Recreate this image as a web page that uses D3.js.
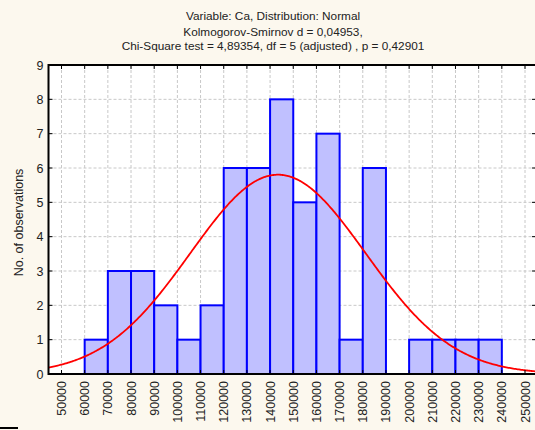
<!DOCTYPE html>
<html>
<head>
<meta charset="utf-8">
<script src="https://cdn.jsdelivr.net/npm/d3@7"></script>
<style>
  body { margin: 0; background: #fcf8ee; }
  svg { display: block; font-family: Arial, "Liberation Sans", sans-serif; }
  .grid line { stroke: #c8c8c8; stroke-dasharray: 3,2; }
</style>
</head>
<body>
<script>
var titleLines = [
    "Variable: Ca, Distribution: Normal",
    "Kolmogorov-Smirnov d = 0,04953,",
    "Chi-Square test = 4,89354, df = 5 (adjusted) , p = 0,42901"
]
var yLabel = "No. of observations"

// histogram bins (lower edge) and counts
var binStarts = [60000, 70000, 80000, 90000, 100000, 110000, 120000, 130000, 140000,
                 150000, 160000, 170000, 180000, 190000, 200000, 210000, 220000, 230000]
var counts = [1, 3, 3, 2, 1, 2, 6, 6, 8, 5, 7, 1, 6, 0, 1, 1, 1, 1]
var binWidth = 10000

var xTicks = [50000, 60000, 70000, 80000, 90000, 100000, 110000, 120000, 130000, 140000, 150000,
              160000, 170000, 180000, 190000, 200000, 210000, 220000, 230000, 240000, 250000]
var yTicks = [0, 1, 2, 3, 4, 5, 6, 7, 8, 9]

// fitted normal
var fitMean = 143400
var fitSd = 37800

var width = 535
var height = 430
var plotLeft = 48.5, plotTop = 65, plotBottom = 374, plotRight = 536

var x = d3.scaleLinear().domain([50000, 250000]).range([61.5, 525])
var y = d3.scaleLinear().domain([0, 9]).range([plotBottom, plotTop])

var svg = d3.select("body").append("svg")
    .attr("width", width)
    .attr("height", height)

svg.append("rect")
    .attr("width", width).attr("height", height)
    .attr("fill", "#fcf8ee")

svg.append("rect")
    .attr("x", plotLeft).attr("y", plotTop)
    .attr("width", plotRight - plotLeft).attr("height", plotBottom - plotTop)
    .attr("fill", "white")

// grid
var grid = svg.append("g").attr("class", "grid")
grid.selectAll(".vg")
    .data(xTicks)
    .enter().append("line")
    .attr("x1", d => x(d)).attr("x2", d => x(d))
    .attr("y1", plotTop).attr("y2", plotBottom)
grid.selectAll(".hg")
    .data(yTicks.slice(1, -1))
    .enter().append("line")
    .attr("x1", plotLeft).attr("x2", plotRight)
    .attr("y1", d => y(d)).attr("y2", d => y(d))

// bars
svg.selectAll(".bar")
    .data(binStarts.map((b, i) => ({ x0: b, n: counts[i] })).filter(d => d.n > 0))
    .enter().append("rect")
    .attr("class", "bar")
    .attr("x", d => x(d.x0))
    .attr("y", d => y(d.n))
    .attr("width", d => x(d.x0 + binWidth) - x(d.x0))
    .attr("height", d => y(0) - y(d.n))
    .attr("fill", "#c0c0ff")
    .attr("stroke", "#0000ff")
    .attr("stroke-width", 2)

// normal curve scaled to counts
var total = d3.sum(counts)
var xMin = x.invert(plotLeft), xMax = x.invert(plotRight)
var curvePts = d3.range(xMin, xMax, 500).map(function (v) {
    var z = (v - fitMean) / fitSd
    return [v, total * binWidth * Math.exp(-0.5 * z * z) / (fitSd * Math.sqrt(2 * Math.PI))]
})
svg.append("path")
    .datum(curvePts)
    .attr("fill", "none")
    .attr("stroke", "#ff0000")
    .attr("stroke-width", 1.8)
    .attr("d", d3.line().x(d => x(d[0])).y(d => y(d[1])))

// frame
svg.append("rect")
    .attr("x", plotLeft).attr("y", plotTop)
    .attr("width", plotRight - plotLeft).attr("height", plotBottom - plotTop)
    .attr("fill", "none")
    .attr("stroke", "black")
    .attr("stroke-width", 2)

// inner ticks
var ticks = svg.append("g").attr("stroke", "black").attr("stroke-width", 1)
xTicks.forEach(function (t) {
    ticks.append("line").attr("x1", x(t)).attr("x2", x(t)).attr("y1", plotBottom).attr("y2", plotBottom - 4)
    ticks.append("line").attr("x1", x(t)).attr("x2", x(t)).attr("y1", plotTop).attr("y2", plotTop + 4)
})
yTicks.forEach(function (t) {
    ticks.append("line").attr("x1", plotLeft).attr("x2", plotLeft + 4).attr("y1", y(t)).attr("y2", y(t))
    ticks.append("line").attr("x1", plotRight - 4).attr("x2", plotRight).attr("y1", y(t)).attr("y2", y(t))
})

// y tick labels
svg.selectAll(".ylab")
    .data(yTicks)
    .enter().append("text")
    .attr("x", plotLeft - 5)
    .attr("y", d => y(d) + 4.5)
    .attr("text-anchor", "end")
    .attr("font-size", 12.5)
    .attr("fill", "#222")
    .text(d => d)

// x tick labels, rotated
svg.selectAll(".xlab")
    .data(xTicks)
    .enter().append("text")
    .attr("transform", d => "translate(" + (x(d) + 4.5) + "," + (plotBottom + 7) + ") rotate(-90)")
    .attr("text-anchor", "end")
    .attr("font-size", 12.5)
    .attr("fill", "#222")
    .text(d => d)

// y axis title
svg.append("text")
    .attr("transform", "translate(23," + ((plotTop + plotBottom) / 2 + 3) + ") rotate(-90)")
    .attr("text-anchor", "middle")
    .attr("font-size", 12.5)
    .attr("fill", "#222")
    .text(yLabel)

// title
svg.selectAll(".title")
    .data(titleLines)
    .enter().append("text")
    .attr("x", 273)
    .attr("y", (d, i) => 20 + i * 16 - (i == 2 ? 2 : 0))
    .attr("text-anchor", "middle")
    .attr("font-size", 11.8)
    .attr("fill", "#222")
    .text(d => d)

// stray mark bottom-left
svg.append("rect")
    .attr("x", 0).attr("y", 427)
    .attr("width", 18).attr("height", 2)
    .attr("fill", "black")
</script>
</body>
</html>
